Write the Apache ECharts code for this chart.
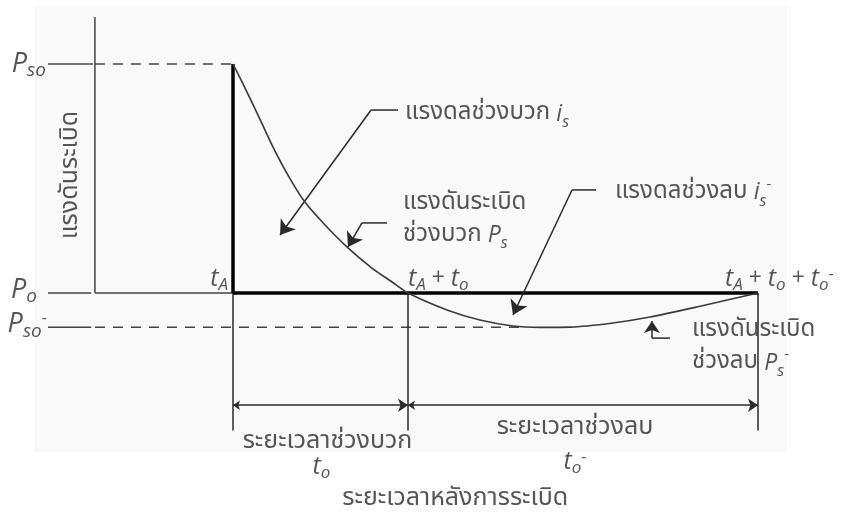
<!DOCTYPE html>
<html>
<head>
<meta charset="utf-8">
<script src="https://cdn.jsdelivr.net/npm/echarts@6/dist/echarts.min.js"></script>
<style>
  html, body { margin: 0; padding: 0; background: #ffffff; }
  #chart { width: 843px; height: 514px; }
</style>
</head>
<body>
<div id="chart"></div>
<script>
// Blast overpressure history (Friedlander-type wave), time in units of t_o.
// Phase boundaries on the time axis: t_A, t_A + t_o, t_A + t_o + t_o^-
const phaseTimes = [1.0, 2.0, 4.0];
// Pressure levels: P_so (peak), P_o (ambient), P_so^- (peak negative)
const pressureLevels = [1.0, 0.0, -0.15];
// Pressure trace P_s(t) after arrival
const curveTime = [1.0, 1.069, 1.143, 1.223, 1.314, 1.411, 1.526, 1.657, 1.794, 1.909, 2.0,
                   2.223, 2.411, 2.6, 2.754, 2.926, 3.171, 3.383, 3.651, 4.0];
const curvePressure = [1.0, 0.895, 0.777, 0.646, 0.515, 0.397, 0.297, 0.197, 0.109, 0.048, 0.0,
                       -0.074, -0.118, -0.144, -0.15, -0.149, -0.131, -0.105, -0.061, 0.0];
// Pressure-axis and level labels
const levelLabels = ['{M|P}{S|so}', '{M|P}{S|o}', '{M|P}{S|so}{x|-}'];
const timeLabels = ['{m|t}{s|A}', '{m|t}{s|A}{u| + }{m|t}{s|o}', '{m|t}{s|A}{u| + }{m|t}{s|o}{u| + }{m|t}{s|o}{x|-}'];
const axisTitles = ['แรงดันระเบิด', 'ระยะเวลาหลังการระเบิด'];

const [tA, tB, tC] = phaseTimes;
const [pPeak, pAmb, pNeg] = pressureLevels;

const LATIN = "'Open Sans','Noto Sans',sans-serif";
const THAI = "'Noto Sans Thai','Noto Sans Thai UI','Noto Sans','DejaVu Sans',sans-serif";
const INK = '#2a2a2a';
const rich = {
  // stand-alone symbols
  m: { fontFamily: LATIN, fontStyle: 'italic', fontSize: 25, lineHeight: 25, verticalAlign: 'top', color: INK },
  u: { fontFamily: LATIN, fontSize: 23, lineHeight: 25, verticalAlign: 'top', color: INK },
  s: { fontFamily: LATIN, fontStyle: 'italic', fontSize: 17, lineHeight: 17, padding: [10, 0, 0, 0], verticalAlign: 'top', color: INK },
  x: { fontFamily: LATIN, fontSize: 16, lineHeight: 16, verticalAlign: 'top', color: INK },
  // pressure level symbols
  M: { fontFamily: LATIN, fontStyle: 'italic', fontSize: 27, lineHeight: 27, verticalAlign: 'top', color: INK },
  S: { fontFamily: LATIN, fontStyle: 'italic', fontSize: 19, lineHeight: 19, padding: [11, 0, 0, 0], verticalAlign: 'top', color: INK },
  // annotation text with inline symbols
  th: { fontFamily: THAI, fontSize: 24, lineHeight: 32, verticalAlign: 'middle', color: INK },
  am: { fontFamily: LATIN, fontStyle: 'italic', fontSize: 23, lineHeight: 32, verticalAlign: 'middle', color: INK },
  as: { fontFamily: LATIN, fontStyle: 'italic', fontSize: 16, lineHeight: 24, verticalAlign: 'bottom', color: INK },
  ax: { fontFamily: LATIN, fontSize: 15, lineHeight: 20, verticalAlign: 'top', color: INK },
  tb: { fontFamily: THAI, fontSize: 25, lineHeight: 32, verticalAlign: 'middle', color: INK }
};

const yAxisT = 0.211;      // position of the vertical pressure axis
const yAxisTop = 1.205;
const tickStart = -0.057;  // left end of the level stubs
const tickEnd = 0.19;
const dimP = -0.49;        // height of the duration dimension lines
const extP = -0.6;         // lower end of the extension lines

function seg(points, width, color, dash) {
  return {
    type: 'line', data: points, showSymbol: false, symbol: 'none', silent: true,
    lineStyle: { width: width, color: color, type: dash || 'solid', cap: 'butt' },
    z: 3
  };
}
function arrowLine(from, to, both, size) {
  return {
    type: 'lines', coordinateSystem: 'cartesian2d', silent: true, z: 4,
    symbol: both ? ['arrow', 'arrow'] : ['none', 'arrow'],
    symbolSize: size,
    lineStyle: { color: INK, width: 1.5, opacity: 1, curveness: 0 },
    itemStyle: { color: '#111' },
    data: [{ coords: [from, to] }]
  };
}

const series = [
  // pressure axis
  seg([[yAxisT, pAmb], [yAxisT, yAxisTop]], 1.5, '#444'),
  // level stubs left of the axis
  seg([[tickStart, pPeak], [tickEnd + 0.01, pPeak]], 1.5, '#444'),
  seg([[tickStart, pAmb], [tickEnd, pAmb]], 1.5, '#444'),
  seg([[tickStart, pNeg], [tickEnd, pNeg]], 1.5, '#444'),
  // peak and negative peak guides
  seg([[yAxisT, pPeak], [tA, pPeak]], 1.5, '#444', [10, 8]),
  seg([[yAxisT, pNeg], [2.64, pNeg]], 1.5, '#444', [10, 8]),
  // ambient line before arrival
  seg([[yAxisT, pAmb], [tA, pAmb]], 1.5, '#444'),
  // extension lines
  seg([[tA, pAmb], [tA, extP]], 1.5, INK),
  seg([[tB, pAmb], [tB, extP]], 1.5, INK),
  seg([[tC, pAmb], [tC, extP]], 1.5, INK),
  // pressure trace
  {
    type: 'line', silent: true, showSymbol: false, symbol: 'none', smooth: 0.25, z: 5,
    lineStyle: { width: 1.6, color: '#3a3a3a' },
    data: curveTime.map((t, i) => [t, curvePressure[i]])
  },
  // shock front and ambient reference during the wave
  seg([[tA, pAmb], [tA, pPeak]], 3.5, '#000'),
  seg([[tA, pAmb], [tC, pAmb]], 3.5, '#000'),
  // duration dimensions
  arrowLine([tA, dimP], [tB, dimP], true, [7, 10]),
  arrowLine([tB, dimP], [tC, dimP], true, [7, 10]),
  // leaders: positive impulse
  seg([[1.789, 0.799], [1.943, 0.799]], 1.5, INK),
  arrowLine([1.789, 0.799], [1.269, 0.253], false, [9, 14]),
  // leaders: positive pressure
  seg([[1.737, 0.306], [1.88, 0.306]], 1.5, INK),
  arrowLine([1.737, 0.306], [1.657, 0.201], false, [9, 14]),
  // leaders: negative impulse
  seg([[2.937, 0.45], [3.074, 0.45]], 1.5, INK),
  arrowLine([2.937, 0.45], [2.6, -0.096], false, [9, 14]),
  // leaders: negative pressure
  seg([[3.394, -0.197], [3.497, -0.197]], 1.5, INK),
  arrowLine([3.394, -0.197], [3.394, -0.122], false, [8, 12])
];

// text labels placed in data coordinates
function lbl(t, p, text, align, offset, rotate) {
  return {
    value: [t, p], text: text,
    label: { align: align, verticalAlign: 'middle', offset: offset || [0, 0], rotate: rotate || 0 }
  };
}
const labelData = [
  lbl(-0.069, pPeak, levelLabels[0], 'right', [0, 0]),
  lbl(-0.12, pAmb, levelLabels[1], 'right', [0, -3]),
  lbl(-0.069, pNeg, levelLabels[2], 'right', [1, -3]),
  lbl(tA, pAmb, timeLabels[0], 'right', [-5, -14]),
  lbl(tB, pAmb, timeLabels[1], 'left', [0, -14]),
  lbl(tC, pAmb, timeLabels[2], 'left', [-33, -14]),
  lbl(1.943, 0.799, '{th|แรงดลช่วงบวก }{am|i}{as|s}', 'left', [7, 4]),
  lbl(1.88, 0.306, '{th|แรงดันระเบิด}\n{th|ช่วงบวก }{am|P}{as|s}', 'left', [16, -3]),
  lbl(3.074, 0.45, '{th|แรงดลช่วงลบ }{am|i}{as|s}{ax|-}', 'left', [19, 3]),
  lbl(3.497, -0.197, '{th|แรงดันระเบิด}\n{th|ช่วงลบ }{am|P}{as|s}{ax|-}', 'left', [22, 9]),
  lbl(1.5, -0.642, '{tb|ระยะเวลาช่วงบวก}', 'center', [7, 3]),
  lbl(1.5, -0.76, '{m|t}{s|o}', 'center', [1, 0]),
  lbl(3.0, -0.576, '{tb|ระยะเวลาช่วงลบ}', 'center', [-8, 4]),
  lbl(3.0, -0.738, '{m|t}{s|o}{x|-}', 'center', [-8, 0]),
  lbl(2.27, -0.891, '{tb|' + axisTitles[1] + '}', 'center', [0, 3]),
  lbl(0.08, 0.515, '{tb|' + axisTitles[0] + '}', 'center', [0, 0], 90)
];
series.push({
  type: 'scatter', silent: true, symbolSize: 0, z: 6,
  data: labelData,
  label: {
    show: true, position: [0, 0], rich: rich, color: INK,
    formatter: (p) => p.data.text
  }
});

const chart = echarts.init(document.getElementById('chart'), null, { renderer: 'canvas' });
chart.setOption({
  animation: false,
  backgroundColor: '#ffffff',
  graphic: [{
    type: 'rect', z: -10, silent: true,
    shape: { x: 35, y: 6, width: 752, height: 446 },
    style: { fill: '#f9f9f9' }
  }],
  grid: { left: 0, right: 0, top: 0, bottom: 0 },
  xAxis: { type: 'value', min: 1 - 233 / 175, max: 1 + 610 / 175, show: false, splitLine: { show: false } },
  yAxis: { type: 'value', min: -221 / 229, max: 293 / 229, show: false, splitLine: { show: false } },
  tooltip: { show: false },
  series: series
});
</script>
</body>
</html>
